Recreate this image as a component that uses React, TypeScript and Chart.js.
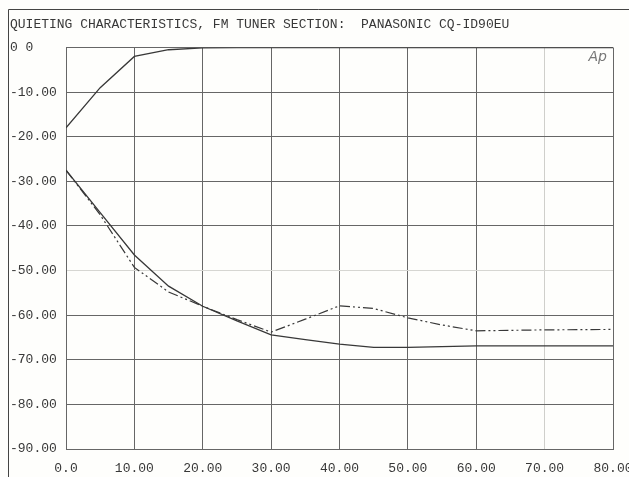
import React, { useEffect, useRef } from "react";
import { Chart, registerables } from "chart.js";

Chart.register(...registerables);

const titleText = "QUIETING CHARACTERISTICS, FM TUNER SECTION:  PANASONIC CQ-ID90EU";
const cornerLabel = "Ap";

const xTicks = [0, 10, 20, 30, 40, 50, 60, 70, 80];

const topX = [0, 5, 10, 15, 20, 25, 30, 40, 50, 60, 70, 80];
const topY = [-18, -9, -2, -0.5, -0.1, 0, 0, 0, 0, 0, 0, 0];

const solidX = [0, 5, 10, 15, 20, 25, 30, 35, 40, 45, 50, 60, 70, 80];
const solidY = [-27.5, -37, -46.5, -53.5, -58, -61.3, -64.4, -65.5, -66.5, -67.2, -67.2, -66.9, -66.9, -66.9];

const dashX = [0, 5, 10, 15, 20, 25, 30, 35, 40, 45, 50, 55, 60, 70, 80];
const dashY = [-27.5, -37.5, -49.3, -54.8, -58, -61, -63.8, -60.9, -57.9, -58.5, -60.6, -62.2, -63.5, -63.3, -63.2];

const FONT = "'Liberation Mono', 'DejaVu Sans Mono', monospace";
const INK = "#383838";
const GRID = "#666";

const toPts = (xs: number[], ys: number[]) => xs.map((x, i) => ({ x, y: ys[i] }));

export default function App() {
  const ref = useRef<HTMLCanvasElement | null>(null);

  useEffect(() => {
    document.body.style.margin = "0";
    const canvas = ref.current!;
    const framePlugin = {
      id: "frame",
      beforeDraw(chart: any) {
        const ctx = chart.ctx;
        ctx.save();
        ctx.fillStyle = "#fefefc";
        ctx.fillRect(0, 0, chart.width, chart.height);
        ctx.restore();
      },
      afterDraw(chart: any) {
        const ctx = chart.ctx;
        const a = chart.chartArea;
        ctx.save();
        ctx.strokeStyle = "#444";
        ctx.lineWidth = 1;
        ctx.beginPath();
        ctx.moveTo(8.5, 9.5);
        ctx.lineTo(chart.width, 9.5);
        ctx.moveTo(8.5, 9.5);
        ctx.lineTo(8.5, chart.height);
        ctx.stroke();
        ctx.fillStyle = INK;
        ctx.font = `13px ${FONT}`;
        ctx.textBaseline = "middle";
        ctx.textAlign = "left";
        ctx.fillText(titleText, 10, 25);
        ctx.fillStyle = "#777";
        ctx.font = `italic 14px 'DejaVu Sans', sans-serif`;
        ctx.textAlign = "right";
        ctx.fillText(cornerLabel, a.right - 6, a.top + 10);
        ctx.restore();
      },
    };

    const chart = new Chart(canvas, {
      type: "line",
      data: {
        datasets: [
          {
            data: toPts(topX, topY),
            borderColor: INK,
            borderWidth: 1.3,
            pointRadius: 0,
            tension: 0,
          },
          {
            data: toPts(solidX, solidY),
            borderColor: INK,
            borderWidth: 1.3,
            pointRadius: 0,
            tension: 0,
          },
          {
            data: toPts(dashX, dashY),
            borderColor: INK,
            borderWidth: 1.2,
            borderDash: [10, 3, 2, 3, 2, 3],
            pointRadius: 0,
            tension: 0,
          },
        ],
      },
      options: {
        animation: false,
        responsive: false,
        maintainAspectRatio: false,
        layout: { padding: { left: 10, top: 47.5, right: 16, bottom: 0 } },
        plugins: { legend: { display: false }, tooltip: { enabled: false } },
        scales: {
          x: {
            type: "linear",
            min: 0,
            max: 80,
            afterBuildTicks: (s: any) => {
              s.ticks = xTicks.map((v) => ({ value: v }));
            },
            afterFit: (s: any) => {
              s.height = 28;
              s.paddingLeft = 0;
              s.paddingRight = 0;
            },
            grid: {
              drawTicks: false,
              color: (c: any) => (c.tick && c.tick.value === 70 ? "#cfcfcb" : GRID),
              lineWidth: 1,
            },
            border: { color: GRID },
            ticks: {
              autoSkip: false,
              maxRotation: 0,
              padding: 12,
              color: INK,
              font: { family: FONT, size: 13 },
              callback: (v: any) => (Number(v) === 0 ? "0.0" : Number(v).toFixed(2)),
            },
          },
          y: {
            type: "linear",
            min: -90,
            max: 0,
            afterFit: (s: any) => {
              s.width = 56;
              s.paddingTop = 0;
              s.paddingBottom = 0;
            },
            grid: {
              drawTicks: false,
              color: (c: any) => (c.tick && c.tick.value === -50 ? "#d6d6d2" : GRID),
              lineWidth: 1,
            },
            border: { color: GRID },
            ticks: {
              stepSize: 10,
              crossAlign: "far",
              padding: 0,
              color: INK,
              font: { family: FONT, size: 13 },
              callback: (v: any) => (Number(v) === 0 ? "0 0" : Number(v).toFixed(2)),
            },
          },
        },
      },
      plugins: [framePlugin],
    } as any);
    return () => chart.destroy();
  }, []);

  return <canvas ref={ref} width={629} height={477} style={{ display: "block" }} />;
}
